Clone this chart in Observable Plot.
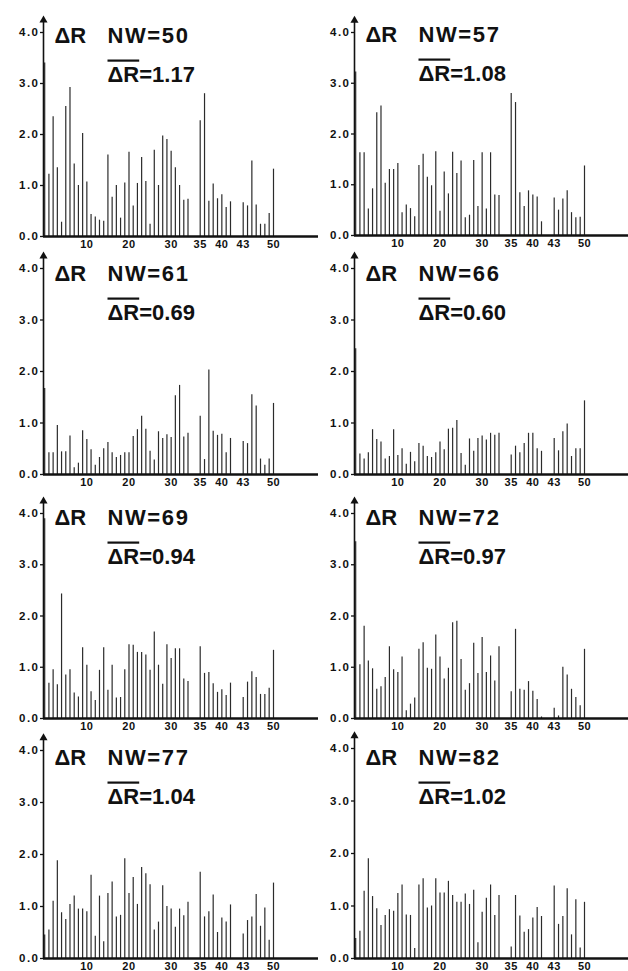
<!DOCTYPE html>
<html><head><meta charset="utf-8">
<script src="https://cdn.jsdelivr.net/npm/d3@7"></script>
<script src="https://cdn.jsdelivr.net/npm/@observablehq/plot@0.6"></script>
<style>
html,body{margin:0;padding:0;background:#fff;overflow:hidden}
#chart{position:relative;width:628px;height:971px;background:#fff}
.panel{position:absolute}
.panel svg{display:block}
</style></head><body><div id="chart"></div>
<script>
// Residue numbers 0..50
const residues = d3.range(0, 51);
const nwValues = [50, 57, 61, 66, 69, 72, 77, 82];
const meanDR = ["1.17", "1.08", "0.69", "0.60", "0.94", "0.97", "1.04", "1.02"];
const xTicks = [10, 20, 30, 35, 40, 43, 50];
const yTicks = [0, 1, 2, 3, 4];

// ΔR per residue (r = 0..50)
const dr50 = [3.40,1.22,2.35,1.35,0.28,2.55,2.92,1.42,1.00,2.02, 1.07,0.43,0.38,0.32,0.30,1.60,0.77,1.00,0.36,1.05, 1.65,0.60,1.04,1.55,1.08,0.24,1.69,1.00,1.97,1.90, 1.67,1.35,1.00,0.71,0.73,2.27,2.80,0.69,1.03,0.74, 0.82,0.57,0.68,0.66,0.60,1.48,0.62,0.24,0.24,0.45, 1.32];
const dr57 = [3.22,1.63,1.63,0.52,0.92,2.42,2.55,1.03,1.30,1.30, 1.42,0.45,0.60,0.53,0.37,1.38,1.60,1.15,0.98,1.65, 0.48,1.25,0.82,1.64,1.22,1.47,0.35,0.40,1.48,0.57, 1.63,0.52,1.63,0.80,0.79,2.80,2.62,0.84,0.57,0.88, 0.80,0.76,0.27,0.74,0.50,0.72,0.88,0.45,0.35,0.36, 1.37];
const dr61 = [1.67,0.42,0.42,0.95,0.44,0.44,0.75,0.13,0.22,0.85, 0.68,0.48,0.18,0.33,0.50,0.62,0.42,0.33,0.37,0.42, 0.42,0.74,0.87,1.13,0.88,0.45,0.28,0.83,0.70,0.77, 0.72,1.53,1.73,0.73,0.80,1.13,0.29,2.03,0.84,0.76, 0.78,0.42,0.70,0.64,0.60,1.55,1.33,0.30,0.18,0.30, 1.38];
const dr66 = [2.44,0.40,0.30,0.42,0.87,0.68,0.63,0.30,0.35,0.87, 0.37,0.50,0.20,0.43,0.25,0.60,0.55,0.35,0.33,0.42, 0.63,0.48,0.88,0.90,1.05,0.41,0.18,0.69,0.45,0.70, 0.75,0.67,0.80,0.76,0.80,0.38,0.55,0.42,0.60,0.80, 0.80,0.50,0.45,0.70,0.46,0.83,0.98,0.35,0.50,0.50, 1.43];
const dr69 = [3.90,0.69,0.95,0.66,2.43,0.85,0.95,0.50,0.42,1.38, 1.04,0.52,0.35,0.94,1.38,0.55,1.04,0.40,0.41,0.95, 1.44,1.43,1.29,1.29,1.24,0.94,1.69,1.04,0.67,1.44, 1.17,1.36,1.36,0.77,0.72,1.40,0.88,0.90,0.68,0.51, 0.56,0.45,0.69,0.41,0.71,0.91,0.80,0.47,0.47,0.59, 1.33];
const dr72 = [3.45,1.05,1.80,1.12,0.97,0.57,0.62,0.80,1.40,0.95, 0.90,1.20,0.15,0.28,0.40,1.35,1.48,0.98,0.96,1.63, 1.20,0.77,0.98,1.87,1.90,1.15,0.55,0.68,1.47,0.88, 1.58,0.90,1.22,0.73,1.40,0.52,1.74,0.57,0.55,0.72, 0.53,0.37,0.03,0.20,0.05,1.00,0.85,0.57,0.41,0.25, 1.35];
const dr77 = [0.45,0.55,1.10,1.88,0.88,0.75,1.04,1.20,0.95,0.95, 0.90,1.60,0.43,1.20,0.32,1.25,1.47,0.80,0.83,1.92, 1.25,1.56,1.04,1.75,1.63,1.42,0.55,0.70,1.40,1.00, 0.95,0.60,0.95,0.82,1.08,1.66,0.80,0.90,1.22,0.50, 0.78,0.70,1.03,0.47,0.73,0.80,1.23,0.62,0.97,0.35, 1.45];
const dr82 = [0.38,0.52,1.28,1.90,1.18,0.95,0.63,0.82,0.93,0.90, 1.24,1.40,0.83,0.82,0.19,1.40,1.52,0.96,1.00,1.52, 1.25,1.25,1.47,1.20,1.07,1.07,1.23,1.03,1.30,0.30, 0.88,1.15,1.40,0.82,1.20,0.22,1.20,0.81,0.50,0.55, 0.77,0.97,0.80,1.38,0.65,0.80,1.33,0.45,1.12,0.20, 1.07];

const series = [dr50, dr57, dr61, dr66, dr69, dr72, dr77, dr82];

// ---- layout (positions / styles only) ----
// piecewise residue axis: gaps after 34 and after 42
const xKnots = [0, 34, 35, 42, 43, 50];
const xKnotOffsets = [1.2, 144.5, 156.7, 187, 199.7, 230];
const axisTop = 4.24;
const layout = [
  {left: 0,   width: 318, marginLeft: 43, zeroY: 236, fourY: 32},
  {left: 314, width: 314, marginLeft: 40, zeroY: 235, fourY: 32},
  {left: 0,   width: 318, marginLeft: 43, zeroY: 474, fourY: 268},
  {left: 314, width: 314, marginLeft: 40, zeroY: 474, fourY: 268},
  {left: 0,   width: 318, marginLeft: 43, zeroY: 718, fourY: 513},
  {left: 314, width: 314, marginLeft: 40, zeroY: 718, fourY: 513},
  {left: 0,   width: 318, marginLeft: 43, zeroY: 958, fourY: 750},
  {left: 314, width: 314, marginLeft: 40, zeroY: 958, fourY: 748}
];

const chart = document.getElementById("chart");
const ns = "http://www.w3.org/2000/svg";
const font = "'Liberation Sans', Arial, Helvetica, sans-serif";

series.forEach((vals, i) => {
  const L = layout[i];
  const mt = 24, mb = 14;
  const plotH = L.zeroY - L.fourY;
  const height = mt + plotH + mb;
  const data = residues.map((r, k) => ({r, v: vals[k]}));
  const nwLabel = `NW=${nwValues[i]}`;
  const meanLabel = `ΔR=${meanDR[i]}`;
  const titleOpts = {text: d => d, frameAnchor: "bottom-left", lineAnchor: "bottom", textAnchor: "start",
                     fontSize: 22, fontWeight: "bold", fill: "#111"};
  const svg = Plot.plot({
    width: L.width, height,
    marginLeft: L.marginLeft, marginRight: 0, marginTop: mt, marginBottom: mb,
    style: {background: "transparent", fontFamily: font, fontWeight: "bold", fontSize: "10px", color: "#111", overflow: "visible"},
    x: {type: "linear", domain: xKnots, range: xKnotOffsets.map(o => L.marginLeft + o)},
    y: {domain: [0, 4]},
    marks: [
      Plot.axisX({ticks: xTicks, tickFormat: d => String(d), tickSize: 0, tickPadding: 4, fontSize: 11, label: null}),
      Plot.axisY({ticks: yTicks, tickFormat: d => d.toFixed(1), tickSize: 3, tickPadding: 1, fontSize: 11.5, strokeWidth: 1.3, label: null}),
      Plot.ruleX(data, {x: "r", y1: 0, y2: "v", stroke: "#2b2b2b", strokeWidth: 1.2}),
      Plot.ruleY([0], {stroke: "#111", strokeWidth: 2.5}),
      Plot.ruleX([0], {y1: 0, y2: axisTop, dx: -1.2, stroke: "#111", strokeWidth: 1.6}),
      Plot.dot([0], {x: d => d, y: () => axisTop, dx: -1.2, symbol: "triangle", r: 3, fill: "#111", stroke: null}),
      Plot.text(["ΔR"], {...titleOpts, dx: 11, dy: -194}),
      Plot.text([nwLabel], {...titleOpts, dx: 64, dy: -194}),
      Plot.text([meanLabel], {...titleOpts, dx: 64, dy: -155})
    ]
  });
  svg.querySelectorAll('[aria-label="y-axis tick label"]').forEach(g => g.setAttribute("letter-spacing", "1.5"));
  svg.querySelectorAll('[aria-label="x-axis tick label"]').forEach(g => g.setAttribute("letter-spacing", "0.5"));
  svg.querySelectorAll("text").forEach(t => {
    const s = t.textContent;
    if (s === nwLabel) {
      t.setAttribute("letter-spacing", "1.6");
    } else if (s === meanLabel) {
      t.textContent = "";
      const a = document.createElementNS(ns, "tspan");
      a.setAttribute("text-decoration", "overline");
      a.style.textDecoration = "overline";
      a.textContent = "ΔR";
      const b = document.createElementNS(ns, "tspan");
      b.textContent = "=" + meanDR[i];
      t.appendChild(a); t.appendChild(b);
    }
  });
  const div = document.createElement("div");
  div.className = "panel";
  div.style.left = L.left + "px";
  div.style.top = (L.fourY - mt) + "px";
  div.appendChild(svg);
  chart.appendChild(div);
});
</script></body></html>
